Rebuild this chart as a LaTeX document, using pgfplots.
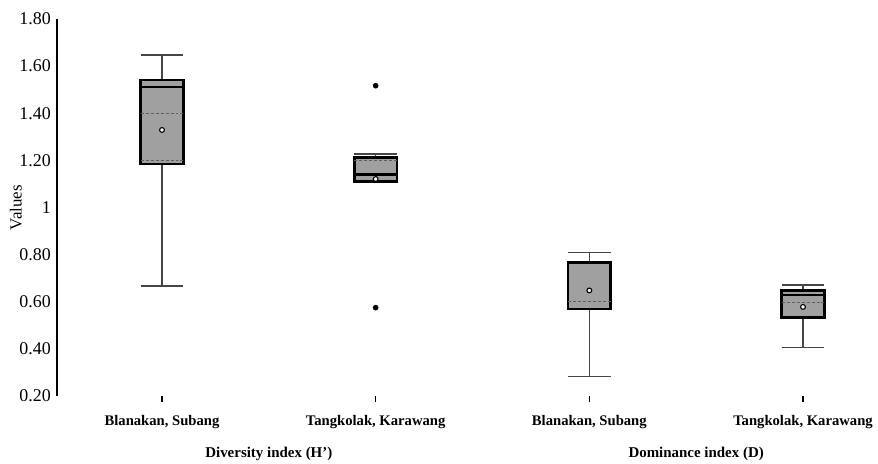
\documentclass[border=0pt]{standalone}
\usepackage{fontspec}
\setmainfont{Liberation Serif}
\usepackage{pgfplots}
\pgfplotsset{compat=1.18}
\usepgfplotslibrary{statistics}

\definecolor{boxfill}{RGB}{160,160,160}
\definecolor{whisk}{RGB}{70,70,70}
\definecolor{dashc}{RGB}{95,95,95}

\begin{document}
\begin{tikzpicture}
\begin{axis}[
  name=ax,
  scale only axis,
  width=821bp, height=377bp,
  xmin=0.5086, xmax=4.351,
  ymin=0.2, ymax=1.8,
  clip=false,
  axis x line*=bottom,
  axis y line*=left,
  x axis line style={draw=none},
  y axis line style={line width=2.6bp, black},
  ytick={0.2,0.4,0.6,0.8,1,1.2,1.4,1.6,1.8},
  yticklabels={0.20,0.40,0.60,0.80,1,1.20,1.40,1.60,1.80},
  ytick style={draw=none},
  yticklabel style={font=\fontsize{18}{20}\selectfont, inner sep=1bp, xshift=1bp},
  xtick={1,2,3,4},
  xticklabels={{Blanakan, Subang},{Tangkolak, Karawang},{Blanakan, Subang},{Tangkolak, Karawang}},
  xtick style={line width=1.6bp, black},
  x tick label style={font=\fontsize{14.7}{16}\selectfont\bfseries, yshift=-10bp},
  tick align=outside,
  major tick length=6bp,
  ylabel={Values},
  ylabel style={font=\fontsize{17}{19}\selectfont, at={(ticklabel cs:0.5)}, yshift=-7bp},
  /pgf/number format/assume math mode=true,
  boxplot/draw direction=y,
  boxplot/box extend=0.2,
  boxplot/whisker extend=0.2,
  boxplot/every box/.style={draw=black, line width=2.6bp, fill=boxfill},
  boxplot/every median/.style={draw=black, line width=2.6bp},
  boxplot/every whisker/.style={draw=whisk, line width=1.3bp},
]
  \coordinate (bl) at (rel axis cs:0,0);

  % Diversity index (H'), Blanakan
  \addplot[boxplot prepared={draw position=1,
      lower whisker=0.667, lower quartile=1.185, median=1.511,
      upper quartile=1.541, upper whisker=1.647}] coordinates {};
  % Diversity index (H'), Tangkolak (two outliers)
  \addplot[boxplot prepared={draw position=2,
      lower whisker=1.111, lower quartile=1.111, median=1.141,
      upper quartile=1.213, upper whisker=1.227},
      mark=*, mark size=2.6bp, mark options={fill=black, draw=black, line width=0.4bp}]
      coordinates {(0,1.517) (0,0.575)};
  % Dominance index (D), Blanakan
  \addplot[boxplot prepared={draw position=3,
      lower whisker=0.282, lower quartile=0.570, median=0.767,
      upper quartile=0.767, upper whisker=0.810}] coordinates {};
  % Dominance index (D), Tangkolak
  \addplot[boxplot prepared={draw position=4,
      lower whisker=0.407, lower quartile=0.534, median=0.629,
      upper quartile=0.647, upper whisker=0.671}] coordinates {};

  % dashed reference lines inside the boxes
  \addplot[densely dashed, draw=dashc, line width=0.8bp] coordinates {(0.9,1.40) (1.1,1.40)};
  \addplot[densely dashed, draw=dashc, line width=0.8bp] coordinates {(0.9,1.20) (1.1,1.20)};
  \addplot[densely dashed, draw=dashc, line width=0.8bp] coordinates {(1.9,1.20) (2.1,1.20)};
  \addplot[densely dashed, draw=dashc, line width=0.8bp] coordinates {(2.9,0.600) (3.1,0.600)};
  \addplot[densely dashed, draw=dashc, line width=0.8bp] coordinates {(3.9,0.598) (4.1,0.598)};

  % means
  \addplot[only marks, mark=*, mark size=2.4bp,
    mark options={fill=white, draw=black, line width=1.1bp}]
    coordinates {(1,1.329) (2,1.121) (3,0.648) (4,0.578)};

  % group captions
  \node[font=\fontsize{15}{17}\selectfont\bfseries] at ([yshift=-58bp]axis cs:1.5,0.2) {Diversity index (H’)};
  \node[font=\fontsize{15}{17}\selectfont\bfseries] at ([yshift=-58bp]axis cs:3.5,0.2) {Dominance index (D)};
\end{axis}
\pgfresetboundingbox
\path ([shift={(-57bp,-68bp)}]bl) rectangle ++(878bp,464bp);
\end{tikzpicture}
\end{document}
